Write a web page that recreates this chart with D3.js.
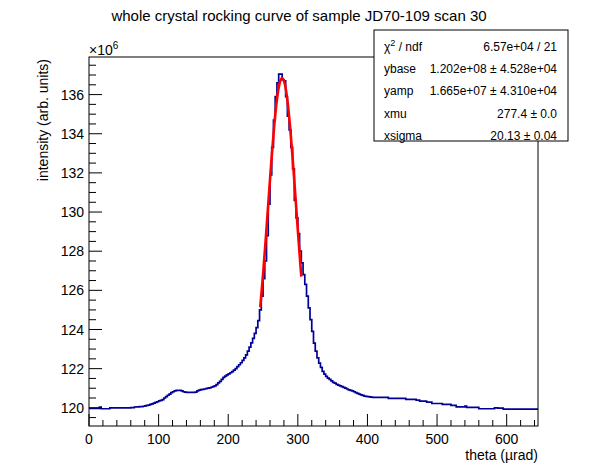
<!DOCTYPE html>
<html>
<head>
<meta charset="utf-8">
<script src="https://cdn.jsdelivr.net/npm/d3@7"></script>
<style>
  body { margin: 0; background: #fff; }
  svg { display: block; }
  text { font-family: "Liberation Sans", Arial, Helvetica, sans-serif; fill: #000; }
</style>
</head>
<body>
<svg id="chart" width="598" height="474"></svg>
<script>
// histogram: 2.5 urad bins from 0 to 645, counts in units of 1e6
const binWidth = 2.5;
const counts = [
  119.97,119.97,119.97,119.97,119.97,119.97,120.03,119.95,119.95,119.95,
  119.95,119.95,120.00,120.00,120.00,120.00,120.00,120.00,120.00,120.00,
  120.00,120.00,120.00,120.00,120.01,120.01,120.04,120.05,120.05,120.06,
  120.06,120.08,120.10,120.12,120.14,120.17,120.20,120.24,120.28,120.31,
  120.35,120.38,120.42,120.50,120.57,120.64,120.70,120.77,120.82,120.86,
  120.89,120.89,120.89,120.86,120.82,120.80,120.79,120.79,120.79,120.79,
  120.79,120.80,120.86,120.90,120.93,120.94,120.96,120.98,121.00,121.02,
  121.05,121.08,121.12,121.18,121.27,121.35,121.45,121.55,121.62,121.68,
  121.73,121.79,121.85,121.92,122.00,122.10,122.20,122.30,122.42,122.55,
  122.70,122.90,123.10,123.32,123.55,123.80,124.10,124.45,125.00,125.70,
  126.60,127.50,128.80,130.40,131.90,133.30,134.70,135.90,136.60,137.05,
  137.05,136.75,136.70,135.90,134.90,134.20,133.30,132.20,130.60,129.70,
  128.90,128.00,127.40,126.80,126.30,125.70,125.10,124.50,123.90,123.30,
  122.90,122.55,122.28,122.06,121.86,121.72,121.60,121.52,121.45,121.38,
  121.30,121.26,121.20,121.16,121.12,121.08,121.04,121.00,120.96,120.92,
  120.89,120.86,120.82,120.78,120.74,120.70,120.66,120.63,120.60,120.58,
  120.57,120.56,120.54,120.53,120.53,120.53,120.53,120.53,120.53,120.53,
  120.53,120.53,120.48,120.48,120.48,120.48,120.48,120.48,120.48,120.48,
  120.48,120.48,120.43,120.43,120.43,120.43,120.43,120.43,120.39,120.39,
  120.34,120.34,120.34,120.34,120.29,120.29,120.29,120.22,120.22,120.22,
  120.22,120.22,120.22,120.17,120.17,120.17,120.17,120.17,120.12,120.12,
  120.12,120.05,120.05,120.05,120.05,120.05,120.09,120.02,120.02,120.02,
  120.02,120.02,120.02,120.02,119.95,119.95,119.95,119.95,119.95,119.95,
  119.95,119.95,119.95,120.00,120.00,119.98,119.98,119.98,119.93,119.93,
  119.93,119.93,119.93,119.93,119.93,119.93,119.93,119.93,119.93,119.93,
  119.93,119.93,119.93,119.93,119.93,119.93,119.93,119.93
];

// gaussian fit curve
const fitX = [246, 250, 254, 258, 262, 266, 270, 274, 277.4, 281, 285, 289, 293, 297, 301, 305];
const fitY = [125.13, 126.79, 128.67, 130.66, 132.62, 134.38, 135.76, 136.61, 136.85,
              136.59, 135.70, 134.30, 132.53, 130.56, 128.57, 126.70];

const xTicks = [0, 100, 200, 300, 400, 500, 600];
const yTicks = [120, 122, 124, 126, 128, 130, 132, 134, 136];

const statNames = ["ndf", "ybase", "yamp", "xmu", "xsigma"];
const statValues = ["6.57e+04 / 21", "1.202e+08 \u00b1 4.528e+04", "1.665e+07 \u00b1 4.310e+04",
                    "277.4 \u00b1 0.0", "20.13 \u00b1 0.04"];

const title = "whole crystal rocking curve of sample JD70-109 scan 30";

const frame = { left: 89, right: 538, top: 57, bottom: 426 };

const svg = d3.select("#chart");

const x = d3.scaleLinear().domain([0, counts.length * binWidth]).range([frame.left, frame.right]);
const y = d3.scaleLinear().domain([119.07, 137.92]).range([frame.bottom, frame.top]);

// histogram outline
const pts = counts.map((c, i) => [i * binWidth, c]);
pts.push([counts.length * binWidth, counts[counts.length - 1]]);

svg.append("path")
  .datum(pts)
  .attr("fill", "none")
  .attr("stroke", "#000096")
  .attr("stroke-width", 1.7)
  .attr("d", d3.line().x(d => x(d[0])).y(d => y(d[1])).curve(d3.curveStepAfter));

// fit
svg.append("path")
  .datum(fitX.map((v, i) => [v, fitY[i]]))
  .attr("fill", "none")
  .attr("stroke", "#ff0000")
  .attr("stroke-width", 2.6)
  .attr("d", d3.line().x(d => x(d[0])).y(d => y(d[1])).curve(d3.curveMonotoneX));

// frame
svg.append("rect")
  .attr("x", frame.left).attr("y", frame.top)
  .attr("width", frame.right - frame.left).attr("height", frame.bottom - frame.top)
  .attr("fill", "none").attr("stroke", "#000").attr("stroke-width", 1);

const ticks = svg.append("g").attr("stroke", "#000").attr("stroke-width", 1);

// x ticks (inward), minor every 20
d3.range(0, 645, 20).forEach(v => {
  const major = v % 100 === 0;
  ticks.append("line")
    .attr("x1", x(v)).attr("x2", x(v))
    .attr("y1", frame.bottom).attr("y2", frame.bottom - (major ? 12 : 6));
});

// y ticks (inward), minor every 0.5
d3.range(119.5, 137.9, 0.5).forEach(v => {
  const major = Math.abs(v % 2) < 1e-6;
  ticks.append("line")
    .attr("x1", frame.left).attr("x2", frame.left + (major ? 13 : 7))
    .attr("y1", y(v)).attr("y2", y(v));
});

svg.append("g").selectAll("text")
  .data(xTicks).join("text")
  .attr("x", d => x(d)).attr("y", 444)
  .attr("text-anchor", "middle")
  .style("font-size", "14px")
  .text(d => d);

svg.append("g").selectAll("text")
  .data(yTicks).join("text")
  .attr("x", 84).attr("y", d => y(d))
  .attr("dy", "0.36em")
  .attr("text-anchor", "end")
  .style("font-size", "14px")
  .text(d => d);

// exponent label
const expo = svg.append("text").attr("x", frame.left).attr("y", 55).style("font-size", "14px");
expo.append("tspan").text("\u00d710");
expo.append("tspan").attr("dy", -6).style("font-size", "10px").text("6");

// axis titles
svg.append("text")
  .attr("x", frame.right).attr("y", 460)
  .attr("text-anchor", "end")
  .style("font-size", "14px")
  .text("theta (\u00b5rad)");

svg.append("text")
  .attr("transform", `translate(48,${frame.top + 2}) rotate(-90)`)
  .attr("text-anchor", "end")
  .style("font-size", "14px")
  .text("intensity (arb. units)");

svg.append("text")
  .attr("x", 299).attr("y", 21)
  .attr("text-anchor", "middle")
  .style("font-size", "15px")
  .text(title);

// stats box
const box = { left: 374, right: 568, top: 30, bottom: 141 };
svg.append("rect")
  .attr("x", box.left).attr("y", box.top)
  .attr("width", box.right - box.left).attr("height", box.bottom - box.top)
  .attr("fill", "#fff").attr("stroke", "#000").attr("stroke-width", 1);

const rowH = (box.bottom - box.top) / statNames.length;
statNames.forEach((name, i) => {
  const by = box.top + rowH * i + 21;
  const t = svg.append("text").attr("x", 384).attr("y", by).style("font-size", "12px");
  if (i === 0) {
    t.append("tspan").text("\u03c7");
    t.append("tspan").attr("dy", -5).style("font-size", "9px").text("2");
    t.append("tspan").attr("dy", 5).text(" / " + name);
  } else {
    t.text(name);
  }
  svg.append("text")
    .attr("x", 557).attr("y", by)
    .attr("text-anchor", "end")
    .style("font-size", "12px")
    .text(statValues[i]);
});
</script>
</body>
</html>
